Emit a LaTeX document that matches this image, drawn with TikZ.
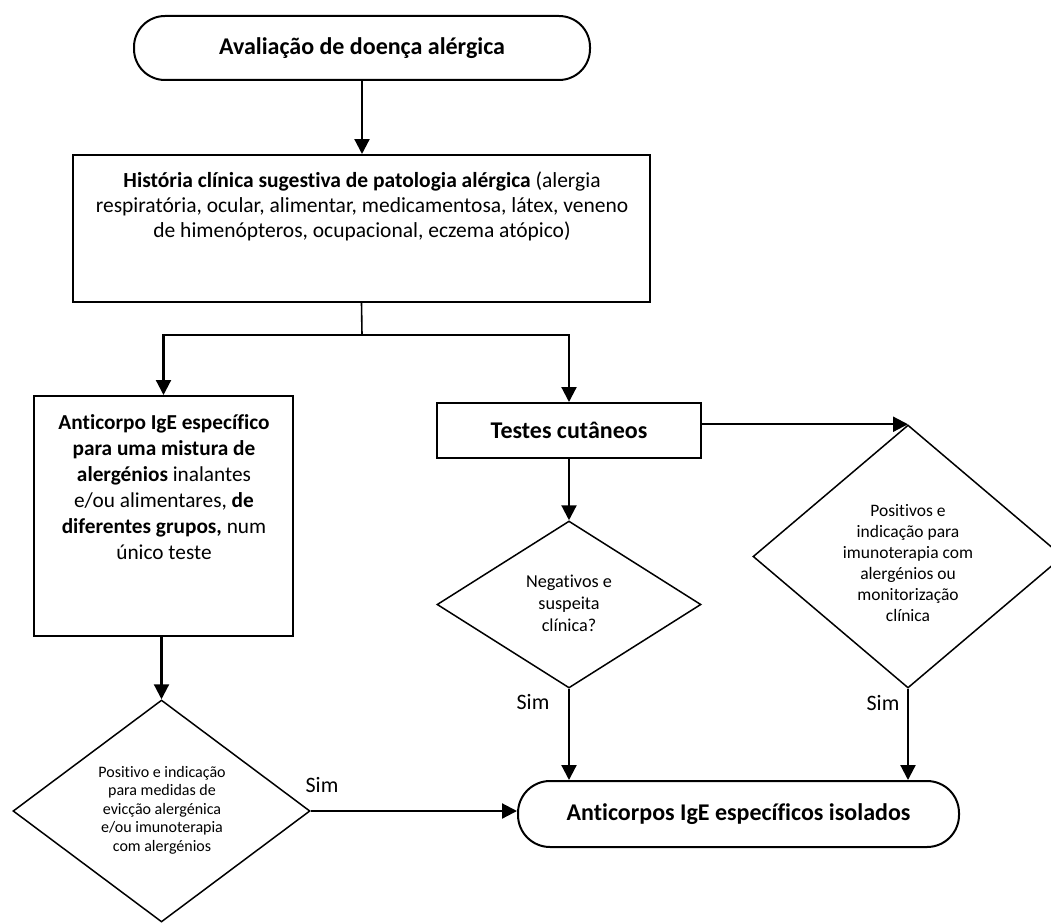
\documentclass[tikz,border=0pt]{standalone}
\usepackage{fontspec}
\setmainfont{Carlito}[Ligatures=NoCommon]
\usetikzlibrary{arrows.meta,shapes.geometric}

\begin{document}
\begin{tikzpicture}[x=1pt,y=-1pt]
\useasboundingbox (0,0) rectangle (1051,923);

\begin{scope}[every node/.style={draw,line width=2pt,inner sep=0pt,font=\fontsize{24}{29}\selectfont}]
    \node[rounded corners=31pt,minimum width=456pt,minimum height=64pt] (aval) at (362,48) {\textbf{Avaliação de doença alérgica}};
    \node[minimum width=577pt,minimum height=147pt] (hist) at (361.5,228.5) {};
    \node[minimum width=259pt,minimum height=240pt] (anti) at (163.5,516) {};
    \node[minimum width=264pt,minimum height=55pt] (testes) at (569,430.5) {\textbf{Testes cutâneos}};
    \node[rounded corners=32pt,minimum width=441pt,minimum height=66pt] (isol) at (738.5,814) {\textbf{Anticorpos IgE específicos isolados}};
\end{scope}

\begin{scope}[every node/.style={diamond,draw,line width=1.5pt,inner sep=0pt}]
    \node[minimum width=264pt,minimum height=167pt] (negd) at (569,604.5) {};
    \node[minimum width=310pt,minimum height=263pt] (posd) at (908,556.5) {};
    \node[minimum width=297pt,minimum height=222pt] (posl) at (161.5,811) {};
\end{scope}

\begin{scope}[every node/.style={align=center,inner sep=0pt}]
    \node[font=\fontsize{21.5}{25}\selectfont] (hist-txt) at (362,206) {\textbf{História clínica sugestiva de patologia alérgica} (alergia\\ respiratória, ocular, alimentar, medicamentosa, látex, veneno\\ de himenópteros, ocupacional, eczema atópico)};
    \node[font=\fontsize{21.3}{26}\selectfont] (anti-txt) at (164,487) {\textbf{Anticorpo IgE específico}\\ \textbf{para uma mistura de}\\ \textbf{alergénios} inalantes\\ e/ou alimentares, \textbf{de}\\ \textbf{diferentes grupos,} num\\ único teste};
    \node[font=\fontsize{18.2}{22}\selectfont] (negd-txt) at (569,603) {Negativos e\\ suspeita\\ clínica?};
    \node[font=\fontsize{17.5}{21}\selectfont] (posd-txt) at (908,563) {Positivos e\\ indicação para\\ imunoterapia com\\ alergénios ou\\ monitorização\\ clínica};
    \node[font=\fontsize{16}{18.5}\selectfont] (posl-txt) at (162,810) {Positivo e indicação\\ para medidas de\\ evicção alergénica\\ e/ou imunoterapia\\ com alergénios};
    \node[font=\fontsize{22}{26}\selectfont] (sim-l) at (322,785) {Sim};
    \node[font=\fontsize{22}{26}\selectfont] (sim-n) at (533,702) {Sim};
    \node[font=\fontsize{22}{26}\selectfont] (sim-p) at (883,703) {Sim};
\end{scope}

\coordinate (j) at (362,335);

\begin{scope}[>={Triangle[length=15pt,width=15pt]}, line width=2.2pt]
    \draw [->] (aval.south) -- (aval.south |- hist.north);
    \draw [line width=1.6pt] (hist.south) -- (j);
    \draw [->] (j) -| (anti.north);
    \draw [->] (j) -| (testes.north);
    \draw [->] (posl.north |- anti.south) -- (posl.north);
    \draw [->] (testes) -- (negd);
    \draw [->] (testes.east |- posd.north) -- (posd.north);
    \draw [->] (negd.south) -- (negd.south |- isol.north);
    \draw [->] (posd.south) -- (posd.south |- isol.north);
    \draw [->] (posl.east) -- (posl.east -| isol.west);
\end{scope}
\end{tikzpicture}
\end{document}
